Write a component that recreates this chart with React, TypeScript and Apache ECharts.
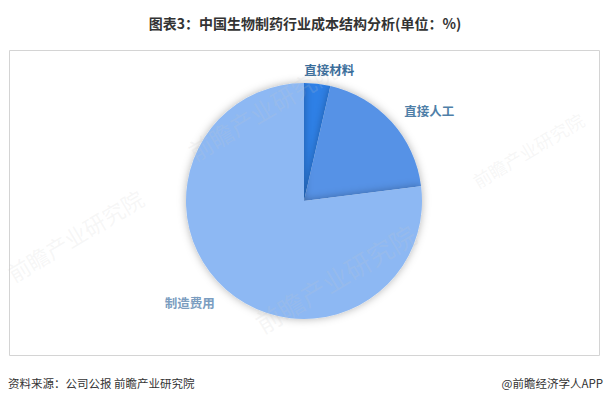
import React, { useEffect, useRef } from "react";
import * as echarts from "echarts";

const titleText = "图表3：中国生物制药行业成本结构分析(单位：%)";
const sourceText = "资料来源：公司公报 前瞻产业研究院";
const brandText = "@前瞻经济学人APP";
const categories = ["直接材料", "直接人工", "制造费用"];
const values = [3.6, 19.4, 77.0];
const sliceColors = ["#2f80e6", "#5692e6", "#8db8f3"];
const labelColors = ["#3a6d9a", "#4f7fa8", "#7b9dc0"];
const watermarkText = "前瞻产业研究院";

export default function App() {
  const ref = useRef<HTMLDivElement>(null);
  useEffect(() => {
    document.body.style.margin = "0";
    const chart = echarts.init(ref.current!, null, { renderer: "svg" });
    const wm = (x: number, y: number, size: number) => ({
      type: "text",
      x,
      y,
      rotation: (31 * Math.PI) / 180,
      z: 100,
      silent: true,
      style: {
        text: watermarkText,
        fontSize: size,
        fontFamily: "Noto Sans CJK SC",
        fill: "rgba(200,200,200,0.16)",
        align: "center",
        verticalAlign: "middle",
      },
    });
    chart.setOption({
      animation: false,
      backgroundColor: "#ffffff",
      title: {
        text: titleText,
        left: "center",
        top: 11,
        textStyle: {
          fontSize: 14,
          fontWeight: "bold",
          color: "#333333",
          fontFamily: "Noto Sans CJK SC",
        },
      },
      graphic: [
        {
          type: "rect",
          shape: { x: 9.5, y: 50.5, width: 590, height: 305 },
          style: { fill: "none", stroke: "#d4d4d4", lineWidth: 1 },
          z: -1,
        },
        {
          type: "text",
          left: 8,
          top: 377,
          style: {
            text: sourceText,
            fontSize: 11.5,
            fill: "#333333",
            fontFamily: "Noto Sans CJK SC",
          },
        },
        {
          type: "text",
          right: 7,
          top: 377,
          style: {
            text: brandText,
            fontSize: 11.5,
            fill: "#333333",
            fontFamily: "Noto Sans CJK SC",
          },
        },
        wm(75, 235, 22),
        wm(262, 110, 24),
        wm(335, 278, 26),
        wm(528, 150, 18),
      ],
      series: [
        {
          type: "pie",
          center: [304, 201],
          radius: 118,
          startAngle: 90,
          clockwise: true,
          data: categories.map((name, i) => ({
            name,
            value: values[i],
            itemStyle: { color: sliceColors[i] },
            label: { color: labelColors[i] },
          })),
          itemStyle: {
            shadowBlur: 8,
            shadowColor: "rgba(0,0,0,0.3)",
          },
          label: {
            show: true,
            position: "outside",
            formatter: "{b}",
            fontSize: 12.5,
            fontWeight: "bold",
            fontFamily: "Noto Sans CJK SC",
            distanceToLabelLine: 0,
          },
          labelLine: { show: false, length: 17, length2: 0 },
          labelLayout: (p: any) => (p.dataIndex === 0 ? { dx: -15, dy: 3 } : {}),
          emphasis: { disabled: true },
        },
      ],
    });
    return () => chart.dispose();
  }, []);
  return <div ref={ref} style={{ width: 610, height: 407 }} />;
}
